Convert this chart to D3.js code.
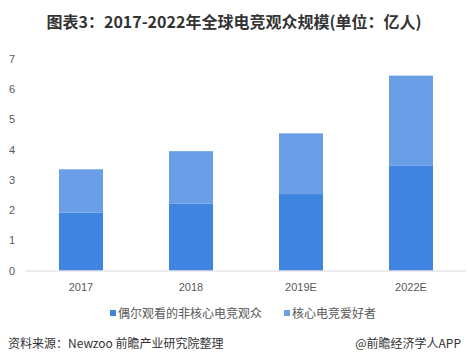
<!DOCTYPE html>
<html>
<head>
<meta charset="utf-8">
<script src="https://cdn.jsdelivr.net/npm/d3@7"></script>
<style>
  body { margin: 0; background: #fff; }
  svg { display: block; font-family: "Noto Sans CJK SC", "Microsoft YaHei", sans-serif; }
</style>
</head>
<body>
<div id="chart"></div>
<script>
// data (亿人)
const years = ["2017", "2018", "2019E", "2022E"];
const casual = [1.92, 2.22, 2.53, 3.48];      // 偶尔观看的非核心电竞观众
const enthusiasts = [1.43, 1.73, 2.01, 2.97]; // 核心电竞爱好者
const seriesNames = ["偶尔观看的非核心电竞观众", "核心电竞爱好者"];
const seriesColors = ["#3f84e0", "#6a9fe7"];
const yTicks = [0, 1, 2, 3, 4, 5, 6, 7];

const W = 468, H = 364;
const svg = d3.select("#chart").append("svg").attr("width", W).attr("height", H);

// title
svg.append("text")
  .attr("x", 234).attr("y", 28)
  .attr("text-anchor", "middle")
  .attr("font-size", 16).attr("font-weight", "bold").attr("fill", "#333")
  .text("图表3：2017-2022年全球电竞观众规模(单位：亿人)");

const x = d3.scaleBand().domain(years).range([26, 466]).paddingInner(0.6).paddingOuter(0.3);
const y = d3.scaleLinear().domain([0, 7]).range([270.5, 59]);

// y labels
svg.append("g").selectAll("text")
  .data(yTicks).join("text")
  .attr("x", 12).attr("y", d => y(d) + 4)
  .attr("text-anchor", "middle")
  .attr("font-size", 11).attr("fill", "#595959")
  .attr("font-family", "Liberation Sans, Arial, sans-serif")
  .text(d => d);

// stacked bars
const rows = years.map((yr, i) => ({ year: yr, casual: casual[i], enthusiasts: enthusiasts[i] }));
const stacked = d3.stack().keys(["casual", "enthusiasts"])(rows);

svg.append("g").selectAll("g")
  .data(stacked).join("g")
  .attr("fill", (d, i) => seriesColors[i])
  .selectAll("rect")
  .data(d => d).join("rect")
  .attr("x", d => x(d.data.year))
  .attr("width", x.bandwidth())
  .attr("y", d => y(d[1]))
  .attr("height", d => y(d[0]) - y(d[1]));

// baseline
svg.append("line")
  .attr("x1", 25).attr("x2", 466)
  .attr("y1", y(0) + 0.5).attr("y2", y(0) + 0.5)
  .attr("stroke", "#d9d9d9");

// x labels
svg.append("g").selectAll("text")
  .data(years).join("text")
  .attr("x", d => x(d) + x.bandwidth() / 2).attr("y", 291)
  .attr("text-anchor", "middle")
  .attr("font-size", 11).attr("fill", "#595959")
  .attr("font-family", "Liberation Sans, Arial, sans-serif")
  .text(d => d);

// legend
const legendX = [110, 284];
const lg = svg.append("g").selectAll("g")
  .data(seriesNames).join("g")
  .attr("transform", (d, i) => `translate(${legendX[i]},0)`);
lg.append("rect").attr("x", 0).attr("y", 310).attr("width", 6).attr("height", 6)
  .attr("fill", (d, i) => seriesColors[i]);
lg.append("text").attr("x", 8).attr("y", 318)
  .attr("font-size", 12).attr("fill", "#595959")
  .text(d => d);

// footer
svg.append("text").attr("x", 8).attr("y", 348)
  .attr("font-size", 12).attr("fill", "#333")
  .text("资料来源：Newzoo 前瞻产业研究院整理");
svg.append("text").attr("x", 461).attr("y", 348)
  .attr("text-anchor", "end")
  .attr("font-size", 12).attr("fill", "#333")
  .text("@前瞻经济学人APP");
</script>
</body>
</html>
